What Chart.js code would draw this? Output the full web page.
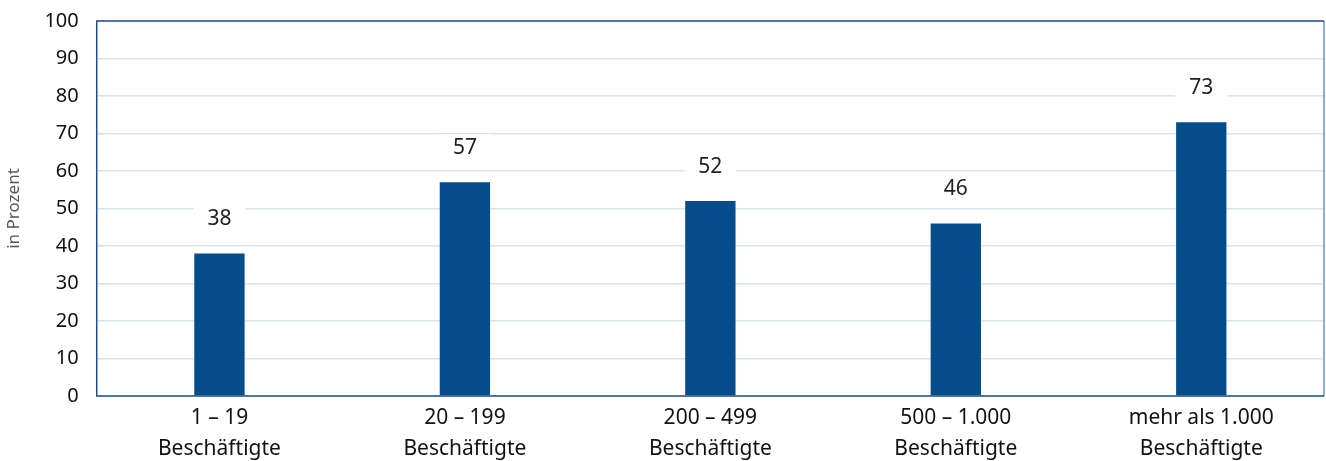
<!DOCTYPE html>
<html>
<head>
<meta charset="utf-8">
<script src="https://cdn.jsdelivr.net/npm/chart.js@4"></script>
<style>
  html, body { margin: 0; padding: 0; background: #fff; overflow: hidden; }
  #wrap { width: 1326px; height: 472px; margin-top: -9px; }
</style>
</head>
<body>
<div id="wrap"><canvas id="chart"></canvas></div>
<script>
const categories = [
    ['1 \u2013 19', 'Beschäftigte'],
    ['20 \u2013 199', 'Beschäftigte'],
    ['200 \u2013 499', 'Beschäftigte'],
    ['500 \u2013 1.000', 'Beschäftigte'],
    ['mehr als 1.000', 'Beschäftigte']
];
const values = [38, 57, 52, 46, 73];
const yTicks = [0, 10, 20, 30, 40, 50, 60, 70, 80, 90, 100];

const barColor = '#044c8a';
const fontFamily = '"Noto Sans", "DejaVu Sans", sans-serif';

// value labels with a white box that hides the grid line behind them
const valueLabels = {
    id: 'valueLabels',
    afterDatasetsDraw(chart) {
        const ctx = chart.ctx;
        const meta = chart.getDatasetMeta(0);
        const yScale = chart.scales.y;
        ctx.save();
        ctx.font = '21px ' + fontFamily;
        ctx.textAlign = 'center';
        ctx.textBaseline = 'middle';
        meta.data.forEach((bar, i) => {
            const y = yScale.getPixelForValue(values[i]) - 34;
            ctx.fillStyle = '#ffffff';
            ctx.fillRect(bar.x - 26, y - 14, 52, 28);
            ctx.fillStyle = '#222222';
            ctx.fillText(String(values[i]), bar.x, y);
        });
        ctx.restore();
    }
};

const frame = {
    id: 'frame',
    afterDraw(chart) {
        const a = chart.chartArea;
        const ctx = chart.ctx;
        ctx.save();
        ctx.lineWidth = 1.5;
        ctx.strokeStyle = '#6a93c4';
        ctx.beginPath();
        ctx.moveTo(a.right, a.top);
        ctx.lineTo(a.right, a.bottom);
        ctx.stroke();
        ctx.strokeStyle = '#1f4f8a';
        ctx.beginPath();
        ctx.moveTo(a.right, a.top);
        ctx.lineTo(a.left, a.top);
        ctx.lineTo(a.left, a.bottom);
        ctx.lineTo(a.right, a.bottom);
        ctx.stroke();
        ctx.restore();
    }
};

new Chart(document.getElementById('chart'), {
    type: 'bar',
    data: {
        labels: categories,
        datasets: [{
            data: values,
            backgroundColor: barColor,
            barPercentage: 0.205,
            categoryPercentage: 1
        }]
    },
    options: {
        responsive: true,
        maintainAspectRatio: false,
        animation: false,
        layout: { padding: { top: 0, right: 2, left: 0, bottom: 0 } },
        plugins: {
            legend: { display: false },
            tooltip: { enabled: false }
        },
        scales: {
            x: {
                grid: { display: false },
                border: { display: false },
                ticks: {
                    color: '#111',
                    font: { family: fontFamily, size: 21, lineHeight: 1.5 },
                    padding: -2,
                    maxRotation: 0
                }
            },
            y: {
                min: 0,
                max: 100,
                afterBuildTicks: axis => { axis.ticks = yTicks.map(v => ({ value: v })); },
                grid: { color: '#d8e2ee', lineWidth: 1.5, drawTicks: false },
                border: { display: false },
                ticks: {
                    color: '#111',
                    font: { family: fontFamily, size: 20 },
                    padding: 18
                },
                title: {
                    display: true,
                    text: 'in Prozent',
                    color: '#555',
                    font: { family: fontFamily, size: 17 },
                    padding: { bottom: 2 }
                }
            }
        }
    },
    plugins: [valueLabels, frame]
});
</script>
</body>
</html>
